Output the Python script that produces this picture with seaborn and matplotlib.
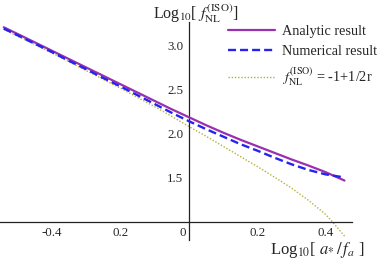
import numpy as np
import pandas as pd
import matplotlib
matplotlib.use("Agg")
import matplotlib.pyplot as plt
import matplotlib.transforms as mtransforms
from matplotlib.ticker import MultipleLocator
import seaborn as sns

# ---- data ----
x_analytic = [-0.54, -0.5, -0.45, -0.4, -0.35, -0.3, -0.25, -0.2, -0.15, -0.1, -0.05,
              0.0, 0.05, 0.1, 0.15, 0.2, 0.25, 0.3, 0.35, 0.4, 0.455]
y_analytic = [3.21, 3.135, 3.04, 2.945, 2.85, 2.755, 2.66, 2.565, 2.47, 2.375, 2.28,
              2.19, 2.10, 2.015, 1.935, 1.86, 1.785, 1.71, 1.64, 1.565, 1.47]

x_numerical = [-0.54, -0.5, -0.45, -0.4, -0.35, -0.3, -0.25, -0.2, -0.15, -0.1, -0.05,
               0.0, 0.05, 0.1, 0.15, 0.2, 0.25, 0.3, 0.35, 0.4, 0.455]
y_numerical = [3.195, 3.12, 3.025, 2.93, 2.83, 2.735, 2.635, 2.54, 2.44, 2.34, 2.24,
               2.145, 2.055, 1.97, 1.885, 1.81, 1.73, 1.655, 1.59, 1.54, 1.505]

x_approx = [-0.54, -0.5, -0.45, -0.4, -0.35, -0.3, -0.25, -0.2, -0.15, -0.1, -0.05,
            0.0, 0.05, 0.1, 0.15, 0.2, 0.25, 0.3, 0.35, 0.4, 0.42, 0.457]
y_approx = [3.185, 3.11, 3.015, 2.92, 2.82, 2.72, 2.62, 2.52, 2.415, 2.31, 2.2,
            2.085, 1.975, 1.86, 1.745, 1.63, 1.51, 1.385, 1.245, 1.085, 1.0, 0.83]

label_analytic = "Analytic result"
label_numerical = "Numerical result"
label_approx = r"$f_{\rm NL}^{\rm (ISO)}$ = -1+1/2r"

x_ticks = [-0.4, -0.2, 0.0, 0.2, 0.4]
x_tick_labels = ["-0.4", "0.2", "0", "0.2", "0.4"]
y_ticks = [1.5, 2.0, 2.5, 3.0]
y_tick_labels = ["1.5", "2.0", "2.5", "3.0"]

# ---- style ----
sns.set_style("white")
plt.rcParams["font.family"] = ["Liberation Serif", "DejaVu Serif"]
plt.rcParams["mathtext.fontset"] = "stix"

W, H = 379, 264
fig = plt.figure(figsize=(W / 100, H / 100), dpi=100)
ax = fig.add_axes([0.0, 1 - 240 / H, 351.7 / W, 218 / H])

df_a = pd.DataFrame({"x": x_analytic, "y": y_analytic})
df_n = pd.DataFrame({"x": x_numerical, "y": y_numerical})
df_p = pd.DataFrame({"x": x_approx, "y": y_approx})

sns.lineplot(data=df_a, x="x", y="y", ax=ax, color="#9a2fb0", lw=1.6,
             label=label_analytic, zorder=3)
sns.lineplot(data=df_n, x="x", y="y", ax=ax, color="#2424f0", lw=1.7,
             linestyle=(0, (3.4, 1.7)), label=label_numerical, zorder=4)
sns.lineplot(data=df_p, x="x", y="y", ax=ax, color="#b4b03c", lw=1.0,
             linestyle=(0, (1, 1.3)), label=label_approx, zorder=2)

ax.set_xlim(-0.551, 0.476)
ax.set_ylim(0.795, 3.27)

for s in ["top", "right"]:
    ax.spines[s].set_visible(False)
ax.spines["left"].set_position(("data", 0))
ax.spines["bottom"].set_position(("data", 1.0))
for s in ["left", "bottom"]:
    ax.spines[s].set_color("#222222")
    ax.spines[s].set_linewidth(0.9)

ax.set_xticks(x_ticks)
ax.set_xticklabels(x_tick_labels)
ax.set_yticks(y_ticks)
ax.set_yticklabels(y_tick_labels)
ax.xaxis.set_minor_locator(MultipleLocator(0.05))
ax.yaxis.set_minor_locator(MultipleLocator(0.1))
ax.tick_params(axis="both", which="major", direction="in", length=4, width=0.8,
               color="#222222", labelsize=9.3, pad=4)
ax.tick_params(axis="both", which="minor", direction="in", length=2.2, width=0.6,
               color="#222222")
ax.tick_params(axis="x", pad=3.5)

# place the "0" label left of the vertical axis
for t in ax.get_xticklabels():
    if t.get_text() == "0":
        t.set_horizontalalignment("right")
        t.set_transform(t.get_transform() + mtransforms.ScaledTranslation(-3 / 100, 0, fig.dpi_scale_trans))

ax.set_xlabel(r"Log$_{10}$[ $a_{*}\,/\,f_a$ ]", fontsize=12)
ax.xaxis.set_label_coords(317 / 351.7, -0.045)
ax.xaxis.label.set_va("center")
ax.set_ylabel(r"Log$_{10}$[ $f_{\rm NL}^{\rm (ISO)}$]", fontsize=11.5, rotation=0)
ax.yaxis.set_label_coords(196 / 351.7, 1.04)
ax.yaxis.label.set_va("center")
ax.yaxis.label.set_ha("center")

leg = ax.legend(loc="upper left", bbox_to_anchor=(222 / 351.7, 1.012), frameon=False,
                fontsize=10.3, handlelength=3.3, handletextpad=0.5, labelspacing=0.5,
                borderaxespad=0.0)

ax.grid(False)
ax.set_facecolor("white")
fig.savefig("out.png", dpi=100, facecolor="white")
